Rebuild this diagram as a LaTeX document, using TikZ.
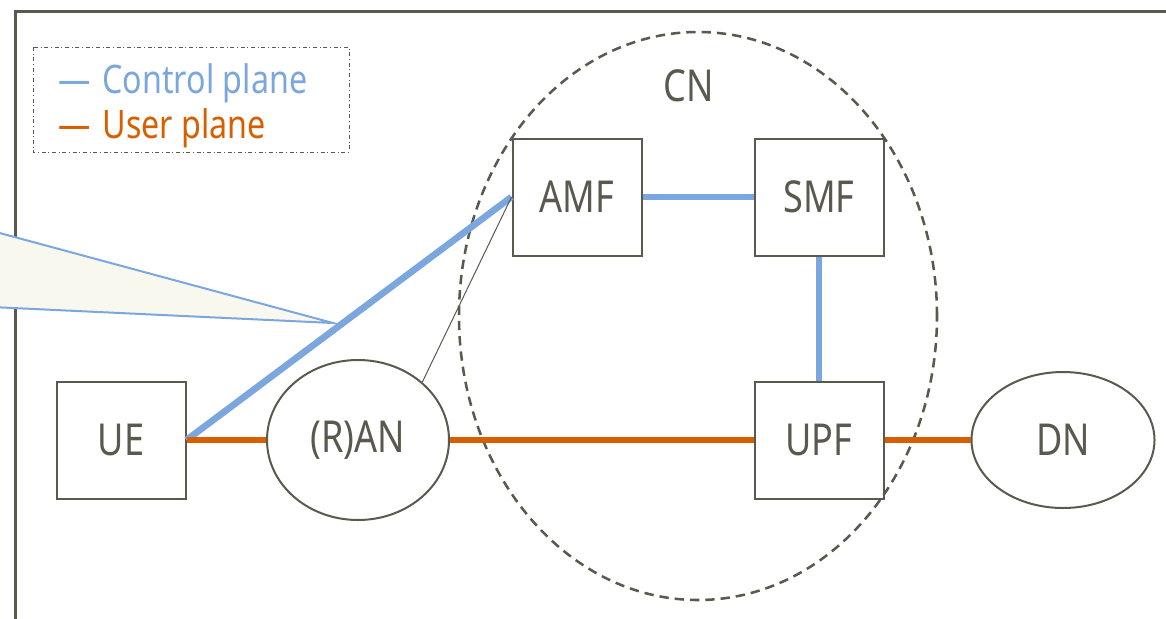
\documentclass[tikz,border=0pt]{standalone}
\usepackage{fontspec}
\setmainfont{Noto Sans}[FakeStretch=0.82]
\usetikzlibrary{calc,shapes.geometric}
\definecolor{ink}{HTML}{5A594E}
\definecolor{cpblue}{HTML}{7BA7DE}
\definecolor{uporange}{HTML}{D75F00}
\definecolor{notefill}{HTML}{F8F8EF}

\begin{document}
\begin{tikzpicture}[x=0.75pt,y=-0.75pt,
	nf/.style={draw=ink,line width=1.5pt,text=ink,inner sep=0pt,
		font=\fontsize{33}{36}\selectfont},
	nfbox/.style={nf,rectangle,minimum width=96.75pt,minimum height=87.75pt},
	cplane/.style={cpblue,line width=5pt},
	uplane/.style={uporange,line width=5pt},
	legtext/.style={anchor=base west,inner sep=0pt,font=\fontsize{29.5}{32}\selectfont}]
				\useasboundingbox (0,0) rectangle (1166,618);
				\clip (0,0) rectangle (1166,618);
				
				% frame
				\draw[ink,line width=2.25pt] (15,640) -- (15,11.5) -- (1180,11.5);
				
				% legend
				\coordinate (l1) at (33,47);
				\coordinate (l2) at (349,152);
				\draw[ink,line width=0.75pt,dash pattern=on 3pt off 2pt on 0.75pt off 2pt] (l1) rectangle (l2);
				\node[legtext,text=cpblue] (lcp) at (58,93) {—\hspace{9pt}Control plane};
				\node[legtext,text=uporange] (lup) at (58,138) {—\hspace{9pt}User plane};
				
				% callout
				\coordinate (tip) at (333,323);
				\coordinate (c1) at (-30,225);
				\coordinate (c2) at (-30,306);
				\fill[notefill] (c1) -- (tip) -- (c2) -- cycle;
				\draw[cpblue,line width=1.5pt] (c1) -- (tip) -- (c2);
				
				% core network
				\node[draw=ink,line width=1.9pt,dash pattern=on 7pt off 4.5pt,ellipse,
					minimum width=358.5pt,minimum height=426pt] (cn) at (698,316) {};
				\node[nf,draw=none] (cnlabel) at (689,86) {CN};
				
				\node[nfbox] (ue) at (121,440) {UE};
				\node[nf,ellipse,minimum width=136.5pt,minimum height=120pt] (ran) at (358,440) {(R)AN};
				\node[nfbox] (amf) at (577,197) {AMF};
				\node[nfbox] (smf) at (819,197) {SMF};
				\node[nfbox] (upf) at (819,440) {UPF};
				\node[nf,ellipse,minimum width=137.25pt,minimum height=102pt] (dn) at (1063,440) {DN};
				
				\draw[cplane] (ue.east) -- (amf.west);
				\draw[cplane] (amf) -- (smf);
				\draw[cplane] (smf) -- (upf);
				
				\foreach \a/\b in {ue/ran,ran/upf,upf/dn}{
					\draw[uplane] (\a) -- (\b);}
				
				\draw[ink,line width=0.75pt] (amf.west) -- (ran.42);
			\end{tikzpicture}
\end{document}
